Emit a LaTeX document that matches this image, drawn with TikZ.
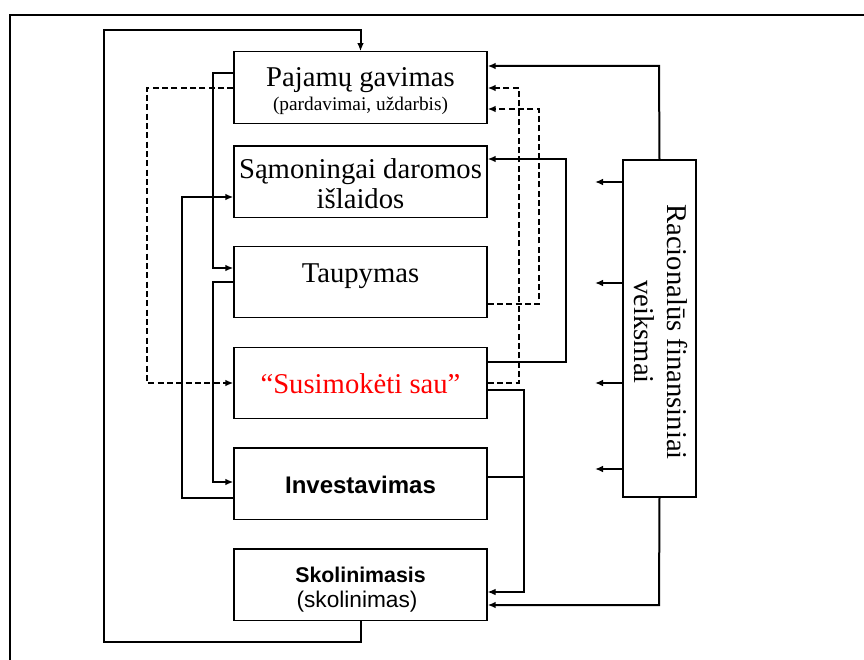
\documentclass[tikz,border=0pt]{standalone}
\usepackage{fontspec}
\setmainfont{Liberation Serif}
\setsansfont{Liberation Sans}
\usetikzlibrary{arrows.meta}
\begin{document}
\begin{tikzpicture}[x=0.75pt,y=-0.75pt,
  box/.style={draw, line width=1pt, minimum width=189.75pt, minimum height=53.5pt, inner sep=0pt},
  conn/.style={line width=1.5pt, -{Latex[length=6pt,width=5pt]}},
  dconn/.style={conn, dash pattern=on 4.5pt off 2.5pt},
  thin/.style={line width=0.9pt},
  big/.style={font=\fontsize{21.5}{24.75}\selectfont, inner sep=0pt, anchor=base},
  small/.style={font=\fontsize{14.5}{17}\selectfont, inner sep=0pt, anchor=base},
  sbold/.style={font=\sffamily\bfseries\fontsize{18}{21}\selectfont, inner sep=0pt, anchor=base},
]
\useasboundingbox (0,0) rectangle (864,660);
% frame
\draw[line width=1.6pt] (10,662) -- (10,15) -- (866,15);

% boxes
\node[box] (pg) at (360.5,87.5) {};
\node[box] (si) at (360.5,181.5) {};
\node[box] (tp) at (360.5,282) {};
\node[box] (ss) at (360.5,383) {};
\node[box] (iv) at (360.5,483.5) {};
\node[box] (sk) at (360.5,584.5) {};
\node[draw, line width=1pt, minimum width=54.75pt, minimum height=252.75pt, inner sep=0pt] (rac) at (659.5,328.5) {};

% texts
\node[big] (t1) at (360.5,87) {Pajamų gavimas};
\node[small] (t1b) at (360.5,111) {(pardavimai, uždarbis)};
\node[big] (t2a) at (360.5,178) {Sąmoningai daromos};
\node[big] (t2b) at (360.5,208) {išlaidos};
\node[big] (t3) at (360.5,282) {Taupymas};
\node[big, text=red] (t4) at (360.5,393) {“Susimokėti sau”};
\node[sbold] (t5) at (360.5,493) {Investavimas};
\node[font=\sffamily\bfseries\fontsize{16}{18}\selectfont, inner sep=0pt, anchor=base] (t6a) at (360.5,582) {Skolinimasis};
\node[font=\sffamily\fontsize{17}{19}\selectfont, inner sep=0pt, anchor=base] (t6b) at (357,607) {(skolinimas)};
\node[rotate=-90, align=center, inner sep=0pt, font=\fontsize{21.5}{24.75}\selectfont] (rt) at (661,332) {Racionalūs finansiniai\\veiksmai};

% outer loop
\draw[conn] (sk.south) -- (360.5,642) -- (104,642) -- (104,30) -- (360.5,30) -- (pg.north);
% left side solid
\draw[conn] (pg.west |- 0,73) -- (213,73) -- (213,268) -- (tp.west |- 0,268);
\draw[conn] (tp.west |- 0,282) -- (213,282) -- (213,482) -- (iv.west |- 0,482);
\draw[conn] (iv.west |- 0,498) -- (182,498) -- (182,197) -- (si.west |- 0,197);
% left dashed
\draw[dconn] (pg.west |- 0,88) -- (147,88) -- (147,383) -- (ss.west |- 0,383);

% right side
\draw[conn] (rac.north |- 0,160) -- (659,66) -- (pg.east |- 0,66);
\draw[conn] (rac.south |- 0,497) -- (659,605) -- (sk.east |- 0,605);
\draw[conn] (ss.east |- 0,362) -- (566,362) -- (566,159) -- (si.east |- 0,159);
\draw[dconn] (ss.east |- 0,383) -- (519,383) -- (519,88) -- (pg.east |- 0,88);
\draw[dconn] (tp.east |- 0,304) -- (539,304) -- (539,109) -- (pg.east |- 0,109);
\draw[thin, -{Latex[length=6pt,width=5pt]}] (ss.east |- 0,390) -- (524,390) -- (524,592) -- (sk.east |- 0,592);
\draw[thin] (iv.east |- 0,477) -- (524,477);

% arrows from rational actions box
\coordinate (a1) at (595,182);
\coordinate (a2) at (595,283);
\coordinate (a3) at (595,383);
\coordinate (a4) at (595,469);
\draw[conn] (rac.west |- 0,182) -- (a1);
\draw[conn] (rac.west |- 0,283) -- (a2);
\draw[conn] (rac.west |- 0,383) -- (a3);
\draw[conn] (rac.west |- 0,469) -- (a4);
\end{tikzpicture}
\end{document}
